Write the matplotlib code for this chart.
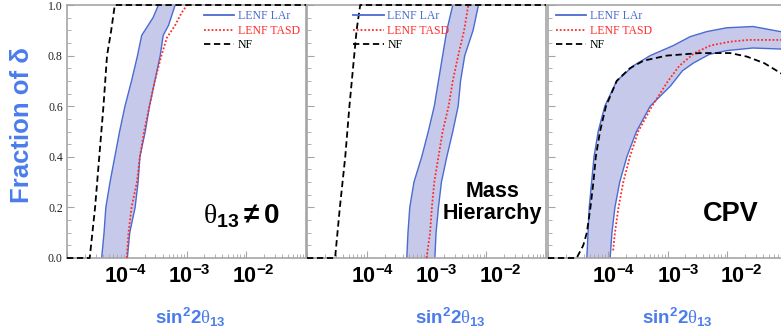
import numpy as np
import matplotlib
matplotlib.use('Agg')
import matplotlib.pyplot as plt
from matplotlib.lines import Line2D
from matplotlib.ticker import FixedLocator, NullFormatter

plt.rcParams['font.family'] = ['Liberation Sans', 'DejaVu Sans']
plt.rcParams['mathtext.fontset'] = 'custom'
plt.rcParams['mathtext.rm'] = 'Liberation Serif'
plt.rcParams['mathtext.bf'] = 'Liberation Sans:bold'
plt.rcParams['mathtext.it'] = 'Liberation Sans:italic'

# Data (x given as log10 of sin^2 2theta13, y = fraction of delta)
# Panel 1: theta13 != 0
p1_nf_logx = [-5.0, -4.62, -4.53, -4.46, -4.39, -4.33, -4.26, -4.20, -1.0]
p1_nf_y = [0.0, 0.0, 0.2, 0.4, 0.6, 0.8, 0.9, 1.0, 1.0]
p1_lar_left_logx = [-4.42, -4.38, -4.35, -4.28, -4.20, -4.12, -4.03, -3.92, -3.82, -3.75, -3.56, -3.47]
p1_lar_left_y = [0.0, 0.1, 0.2, 0.3, 0.4, 0.5, 0.6, 0.7, 0.8, 0.88, 0.95, 1.0]
p1_lar_right_logx = [-3.99, -3.95, -3.86, -3.81, -3.78, -3.69, -3.62, -3.53, -3.44, -3.39, -3.30, -3.19]
p1_lar_right_y = [0.0, 0.1, 0.2, 0.3, 0.4, 0.5, 0.6, 0.7, 0.8, 0.88, 0.92, 1.0]
p1_tasd_logx = [-4.00, -3.97, -3.92, -3.83, -3.78, -3.71, -3.62, -3.53, -3.42, -3.33, -3.19, -3.08, -2.99]
p1_tasd_y = [0.0, 0.1, 0.2, 0.3, 0.4, 0.5, 0.6, 0.7, 0.8, 0.87, 0.92, 0.97, 1.0]

# Panel 2: mass hierarchy
p2_nf_logx = [-5.0, -4.53, -4.49, -4.45, -4.36, -4.29, -4.21, -4.17, -4.11, -1.0]
p2_nf_y = [0.0, 0.0, 0.1, 0.2, 0.4, 0.6, 0.8, 0.9, 1.0, 1.0]
p2_lar_left_logx = [-3.33, -3.31, -3.28, -3.21, -3.08, -2.97, -2.87, -2.80, -2.73, -2.66, -2.56]
p2_lar_left_y = [0.0, 0.1, 0.2, 0.3, 0.4, 0.5, 0.6, 0.7, 0.8, 0.9, 1.0]
p2_lar_right_logx = [-2.86, -2.84, -2.80, -2.75, -2.66, -2.56, -2.47, -2.43, -2.36, -2.22, -2.13]
p2_lar_right_y = [0.0, 0.1, 0.2, 0.3, 0.4, 0.5, 0.6, 0.7, 0.8, 0.9, 1.0]
p2_tasd_logx = [-3.00, -2.94, -2.91, -2.87, -2.80, -2.73, -2.63, -2.56, -2.47, -2.37, -2.30]
p2_tasd_y = [0.0, 0.1, 0.2, 0.3, 0.4, 0.5, 0.6, 0.7, 0.8, 0.9, 1.0]

# Panel 3: CPV
p3_nf_logx = [-5.0, -4.52, -4.41, -4.35, -4.29, -4.24, -4.20, -4.13, -4.03, -3.85, -3.63, -3.40,
              -3.01, -2.46, -1.95, -1.67, -1.38, -1.10, -1.0]
p3_nf_y = [0.0, 0.0, 0.05, 0.1, 0.2, 0.3, 0.4, 0.5, 0.6, 0.7, 0.75, 0.78,
           0.80, 0.81, 0.81, 0.796, 0.77, 0.73, 0.71]
p3_lar_left_logx = [-4.35, -4.33, -4.31, -4.27, -4.23, -4.16, -4.05, -3.85, -3.57, -3.29, -2.90,
                    -2.62, -2.34, -2.01, -1.57, -1.34, -1.0]
p3_lar_left_y = [0.0, 0.1, 0.2, 0.3, 0.4, 0.5, 0.6, 0.7, 0.76, 0.8, 0.84,
                 0.875, 0.895, 0.91, 0.915, 0.905, 0.89]
p3_lar_right_logx = [-3.96, -3.93, -3.88, -3.80, -3.68, -3.52, -3.29, -2.95, -2.75, -2.57, -2.30,
                     -2.0, -1.57, -1.0]
p3_lar_right_y = [0.0, 0.1, 0.2, 0.3, 0.4, 0.5, 0.6, 0.68, 0.74, 0.77, 0.805,
                  0.82, 0.83, 0.825]
p3_tasd_logx = [-3.91, -3.88, -3.82, -3.74, -3.63, -3.49, -3.26, -2.99, -2.80, -2.55, -2.28,
                -1.95, -1.65, -1.0]
p3_tasd_y = [0.03, 0.1, 0.2, 0.3, 0.4, 0.5, 0.6, 0.7, 0.76, 0.81, 0.84,
             0.855, 0.862, 0.862]

xtick_vals = [1e-4, 1e-3, 1e-2]
xtick_labels = [r'$\mathbf{10^{-4}}$', r'$\mathbf{10^{-3}}$', r'$\mathbf{10^{-2}}$']
legend_labels = ['LENF LAr', 'LENF TASD', 'NF']

BLUE_TXT = '#4a7cec'
BAND_EDGE = '#4a6bd0'
BAND_FILL = '#c6c9e9'
RED = '#ff2a2a'
SPINE = '#a5a5a5'

panels = [
    dict(nf=(p1_nf_logx, p1_nf_y), left=(p1_lar_left_logx, p1_lar_left_y),
         right=(p1_lar_right_logx, p1_lar_right_y), tasd=(p1_tasd_logx, p1_tasd_y),
         leg_x=0.55, xlab_x=0.515, tick_dx=[-1, 2, 5],
         note=r'$\mathrm{\theta}_{\mathbf{13}}\mathbf{\neq 0}$', note_xy=(0.73, 0.165), note_fs=20),
    dict(nf=(p2_nf_logx, p2_nf_y), left=(p2_lar_left_logx, p2_lar_left_y),
         right=(p2_lar_right_logx, p2_lar_right_y), tasd=(p2_tasd_logx, p2_tasd_y),
         leg_x=0.17, xlab_x=0.598, tick_dx=[4, 7, 10],
         note='Mass\nHierarchy', note_xy=(0.775, 0.22), note_fs=15.5),
    dict(nf=(p3_nf_logx, p3_nf_y), left=(p3_lar_left_logx, p3_lar_left_y),
         right=(p3_lar_right_logx, p3_lar_right_y), tasd=(p3_tasd_logx, p3_tasd_y),
         leg_x=0.01, xlab_x=0.54, tick_dx=[4, 8, 10],
         note='CPV', note_xy=(0.766, 0.175), note_fs=19.5),
]

fig = plt.figure(figsize=(7.81, 3.30), dpi=100)
W, H = 781.0, 330.0
lefts = [67, 307, 548]
pw, ph = 239, 253
bottom_px = 258

for i, p in enumerate(panels):
    ax = fig.add_axes([lefts[i] / W, (H - bottom_px) / H, pw / W, ph / H])
    ax.set_xscale('log')
    ax.set_xlim(1e-5, 1e-1)
    ax.set_ylim(0, 1)

    lx = 10.0 ** np.array(p['left'][0])
    rx = 10.0 ** np.array(p['right'][0])
    ax.fill(np.concatenate([lx, rx[::-1]]),
            np.concatenate([p['left'][1], p['right'][1][::-1]]),
            color=BAND_FILL, lw=0, zorder=1)
    ax.plot(lx, p['left'][1], color=BAND_EDGE, lw=1.0, zorder=2)
    ax.plot(rx, p['right'][1], color=BAND_EDGE, lw=1.0, zorder=2)
    ax.plot(10.0 ** np.array(p['tasd'][0]), p['tasd'][1], color=RED, lw=1.3,
            ls=(0, (1, 1.1)), zorder=3)
    ax.plot(10.0 ** np.array(p['nf'][0]), p['nf'][1], color='black', lw=1.3,
            ls=(0, (3.5, 2)), zorder=4, clip_on=False)

    for s in ax.spines.values():
        s.set_color(SPINE)
        s.set_linewidth(1.2)

    ax.xaxis.set_major_locator(FixedLocator([1e-5, 1e-4, 1e-3, 1e-2, 1e-1]))
    ax.xaxis.set_major_formatter(NullFormatter())
    ax.xaxis.set_minor_formatter(NullFormatter())
    ax.tick_params(axis='x', which='both', direction='in', color=SPINE, top=False)
    ax.tick_params(axis='x', which='major', length=5)
    ax.tick_params(axis='x', which='minor', length=3)
    for v, lab, dx in zip(xtick_vals, xtick_labels, p['tick_dx']):
        ax.annotate(lab, xy=(v, 0), xycoords=('data', 'axes fraction'),
                    xytext=(dx, -13.5), textcoords='offset points',
                    ha='center', va='center', fontsize=15.5, color='black')

    ax.set_yticks([0, 0.2, 0.4, 0.6, 0.8, 1.0])
    ax.set_yticks(np.arange(0, 1.001, 0.05), minor=True)
    ax.tick_params(axis='y', which='both', direction='in', color=SPINE, right=False)
    ax.tick_params(axis='y', which='major', length=5)
    ax.tick_params(axis='y', which='minor', length=3)
    if i == 0:
        ax.set_yticklabels(['0.0', '0.2', '0.4', '0.6', '0.8', '1.0'],
                           family=['Liberation Serif', 'DejaVu Serif'], fontsize=8.5,
                           color='#222222')
        ax.tick_params(axis='y', pad=3)
    else:
        ax.set_yticklabels([])

    handles = [Line2D([], [], color=BAND_EDGE, lw=1.3),
               Line2D([], [], color=RED, lw=1.3, ls=(0, (1, 1.1))),
               Line2D([], [], color='black', lw=1.3, ls=(0, (3.5, 2)))]
    leg = ax.legend(handles, legend_labels, loc='upper left',
                    bbox_to_anchor=(p['leg_x'], 1.0), frameon=False,
                    prop={'family': ['Liberation Serif', 'DejaVu Serif'], 'size': 8.5},
                    handlelength=2.6, handletextpad=0.3, labelspacing=0.2,
                    borderaxespad=0.25, borderpad=0.2)
    for t, c in zip(leg.get_texts(), [BAND_EDGE, RED, 'black']):
        t.set_color(c)

    ax.text(p['xlab_x'], -0.235, r'$\mathbf{sin^22}\mathrm{\theta}_{\mathbf{13}}$',
            transform=ax.transAxes, ha='center', va='center',
            fontsize=13.5, color=BLUE_TXT)

    ax.text(p['note_xy'][0], p['note_xy'][1], p['note'], transform=ax.transAxes,
            ha='center', va='center', fontsize=p['note_fs'], fontweight='bold',
            linespacing=1.05, color='black', zorder=5)

fig.text(22 / W, (H - 125) / H, 'Fraction of δ', rotation=90,
         ha='center', va='center', fontsize=18.5, fontweight='bold', color=BLUE_TXT)

fig.savefig('out.png', dpi=100)
